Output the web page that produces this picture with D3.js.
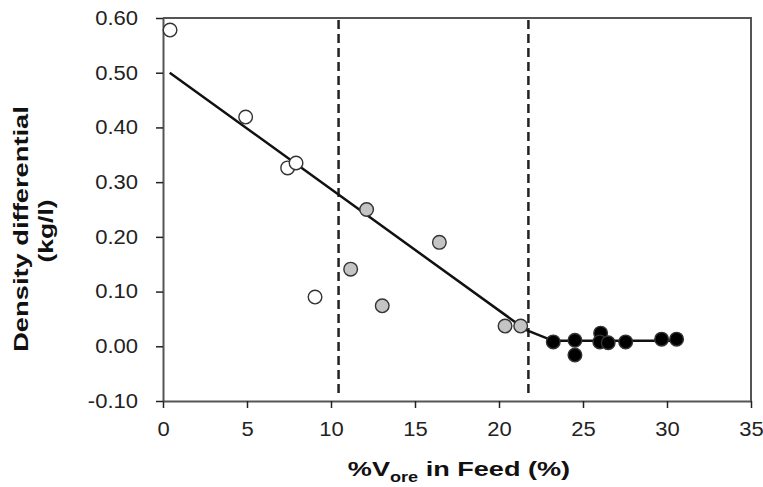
<!DOCTYPE html>
<html>
<head>
<meta charset="utf-8">
<script src="https://cdn.jsdelivr.net/npm/d3@7"></script>
<style>
  body { margin: 0; background: #fff; }
  svg { display: block; font-family: "Liberation Sans", Arial, sans-serif; }
</style>
</head>
<body>
<svg id="chart" width="763" height="487"></svg>
<script>
// Data
const openPts = [[0.42, 0.578], [4.92, 0.419], [7.42, 0.326], [7.92, 0.335], [9.05, 0.090]];
const grayPts = [[12.12, 0.250], [16.45, 0.190], [11.17, 0.141], [13.05, 0.074], [20.36, 0.037], [21.29, 0.037]];
const blackPts = [[23.23, 0.008], [24.52, 0.011], [24.52, -0.016], [26.05, 0.024], [26.0, 0.008],
                  [26.5, 0.0065], [27.54, 0.008], [29.68, 0.013], [30.57, 0.013]];
const fitLine = [[0.4, 0.50], [21.6, 0.03], [23.23, 0.01], [30.57, 0.01]];
const dashedX = [10.45, 21.75];
const xTicks = [0, 5, 10, 15, 20, 25, 30, 35];
const yTicks = [-0.10, 0.00, 0.10, 0.20, 0.30, 0.40, 0.50, 0.60];

const svg = d3.select('#chart');
const L = 163, R = 751, T = 18, B = 401;
const AXIS = '#555';

const x = d3.scaleLinear().domain([0, 35]).range([L, R]);
const y = d3.scaleLinear().domain([-0.10, 0.60]).range([B, T]);

// widen text along its baseline (the source font is set wider than Arial)
function stretch(sel, k) {
  sel.each(function() {
    const w = this.getComputedTextLength();
    d3.select(this).attr('textLength', w * k).attr('lengthAdjust', 'spacingAndGlyphs');
  });
}

// frame (top and right)
svg.append('path')
  .attr('d', `M${L},${T}H${R}V${B}`)
  .style('fill', 'none').style('stroke', AXIS).style('stroke-width', 2);

const xAxis = svg.append('g').attr('transform', `translate(0,${B})`)
  .call(d3.axisBottom(x).tickValues(xTicks).tickSize(7).tickSizeOuter(0).tickPadding(14).tickFormat(d3.format('d')));
const yAxis = svg.append('g').attr('transform', `translate(${L},0)`)
  .call(d3.axisLeft(y).tickValues(yTicks).tickSize(7).tickSizeOuter(0).tickPadding(18)
    .tickFormat(d => d3.format('.2f')(d).replace('\u2212', '-')));

[xAxis, yAxis].forEach(g => {
  g.select('.domain').style('stroke', AXIS).style('stroke-width', 2);
  g.selectAll('.tick line').style('stroke', '#222').style('stroke-width', 1.5);
  g.selectAll('.tick text')
    .style('font-size', '20px').style('fill', '#222')
    .style('font-family', '"Liberation Sans", Arial, sans-serif')
    .call(stretch, 1.1);
});

// dashed vertical boundaries
svg.selectAll('.vline').data(dashedX).join('line')
  .attr('x1', d => x(d)).attr('x2', d => x(d))
  .attr('y1', T + 2).attr('y2', B - 6)
  .style('stroke', '#222').style('stroke-width', 2.5)
  .style('stroke-dasharray', '9,5');

// fitted piecewise line
svg.append('path')
  .datum(fitLine)
  .attr('d', d3.line().x(d => x(d[0])).y(d => y(d[1])))
  .style('fill', 'none').style('stroke', '#111').style('stroke-width', 2.5);

function drawPts(pts, fill) {
  svg.append('g').selectAll('circle').data(pts).join('circle')
    .attr('cx', d => x(d[0])).attr('cy', d => y(d[1]))
    .attr('r', 6.8)
    .style('fill', fill).style('stroke', '#333').style('stroke-width', 1.4);
}
drawPts(openPts, '#fff');
drawPts(grayPts, '#c4c4c4');
drawPts(blackPts, '#000');

// axis titles
const xt = svg.append('text')
  .attr('x', (L + R) / 2 + 2).attr('y', 476)
  .attr('text-anchor', 'middle')
  .style('font-size', '21px').style('font-weight', 'bold').style('fill', '#111');
xt.append('tspan').text('%V');
xt.append('tspan').attr('dy', 6).style('font-size', '14px').text('ore');
xt.append('tspan').attr('dy', -6).text(' in Feed (%)');
stretch(xt, 1.29);

svg.append('text')
  .attr('transform', 'translate(28,229) rotate(-90)')
  .attr('text-anchor', 'middle')
  .style('font-size', '21px').style('font-weight', 'bold').style('fill', '#111')
  .text('Density differential')
  .call(stretch, 1.3);
svg.append('text')
  .attr('transform', 'translate(53,231) rotate(-90)')
  .attr('text-anchor', 'middle')
  .style('font-size', '21px').style('font-weight', 'bold').style('fill', '#111')
  .text('(kg/l)')
  .call(stretch, 1.26);
</script>
</body>
</html>
